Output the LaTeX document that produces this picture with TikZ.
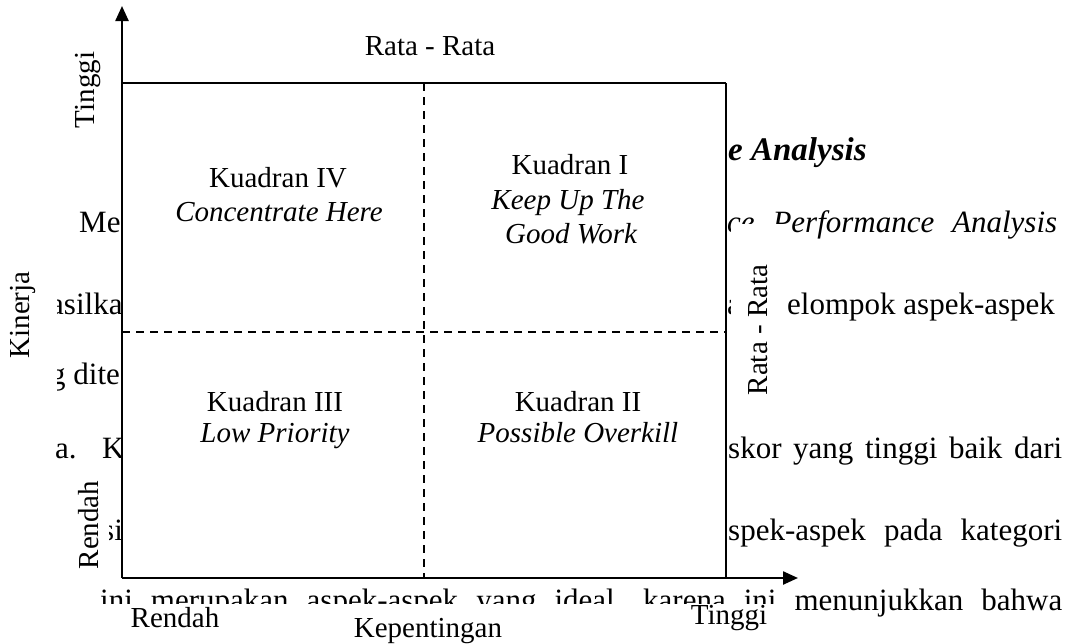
\documentclass[tikz,border=0pt]{standalone}
\usepackage{fontspec}
\setmainfont{Liberation Serif}
\usetikzlibrary{arrows.meta}
\begin{document}
\begin{tikzpicture}[x=1pt,y=-1pt,
  lbl/.style={font=\fontsize{29}{35}\selectfont, inner sep=0pt},
  bg/.style={font=\fontsize{31}{37}\selectfont, inner sep=0pt, anchor=base west},
  quad/.style={font=\fontsize{29}{35}\selectfont, inner sep=0pt, anchor=base},
  mask/.style={fill=white, draw=none},
  axis/.style={line width=2.4pt, -{Triangle[length=15pt,width=13pt]}},
  frame/.style={line width=1.8pt},
  divider/.style={line width=1.3pt, dash pattern=on 8pt off 6pt}]
\useasboundingbox (0,0) rectangle (1071,643);

% ---- page text behind the figure ----
\node[bg] (h1) at (728,160) {\fontsize{33}{37}\selectfont\bfseries\itshape e Analysis};
\node[bg] (l1a) at (79,232) {Me};
\node[bg] (l1b) at (727,232) {\makebox[330pt][s]{\itshape ce Performance Analysis}};
\node[bg] (l2a) at (50,314) {asilka};
\node[bg] (l2b) at (727,314) {a};
\node[bg] (l2c) at (787,314) {elompok aspek-aspek};
\node[bg] (l3a) at (50,384) {g dite};
\node[bg] (l4a) at (55,458) {a.};
\node[bg] (l4b) at (102,458) {K};
\node[bg] (l4c) at (728,458) {\makebox[334pt][s]{skor yang tinggi baik dari}};
\node[bg] (l5a) at (102,540) {si};
\node[bg] (l5b) at (728,540) {\makebox[334pt][s]{spek-aspek pada kategori}};
\node[bg] (l6) at (100,610) {\makebox[962pt][s]{ini merupakan aspek-aspek yang ideal, karena ini menunjukkan bahwa}};

% ---- white text boxes of the labels ----
\fill[mask] (0,250) rectangle (57,398);
\fill[mask] (40,466) rectangle (109,578);
\fill[mask] (731,224) rectangle (785,402);
\fill[mask] (95,604) rectangle (783,643);

% ---- figure ----
\coordinate (O) at (122,578);
\coordinate (TL) at (122,83);
\coordinate (TR) at (726,83);
\coordinate (BR) at (726,578);
\coordinate (ytip) at (122,6);
\coordinate (xtip) at (798,578);
\coordinate (vt) at (424,83);
\coordinate (vb) at (424,578);
\coordinate (hl) at (122,332);
\coordinate (hr) at (726,332);

\fill[white] (TL) rectangle (BR);
\draw[frame] (TL) -- (TR);
\draw[line width=1.5pt] (TR) -- (BR);
\draw[divider] (vt) -- (vb);
\draw[divider] (hl) -- (hr);
\draw[axis] (O) -- (ytip);
\draw[axis] (O) -- (xtip);

% quadrant texts
\node[quad] (q4a) at (278,187) {Kuadran IV};
\node[quad] (q4b) at (279,221) {\itshape Concentrate Here};
\node[quad] (q1a) at (570,174) {Kuadran I};
\node[quad] (q1b) at (568,209) {\itshape Keep Up The};
\node[quad] (q1c) at (571,243) {\itshape Good Work};
\node[quad] (q3a) at (275,411) {Kuadran III};
\node[quad] (q3b) at (275,442) {\itshape Low Priority};
\node[quad] (q2a) at (578,411) {Kuadran II};
\node[quad] (q2b) at (578,442) {\itshape Possible Overkill};

% axis labels
\node[lbl, anchor=base] (rtop) at (430,55) {Rata - Rata};
\node[lbl, rotate=90] (ytop) at (88,90) {Tinggi};
\node[lbl, rotate=90] (yname) at (23,315) {Kinerja};
\node[lbl, rotate=90] (ylow) at (89,525) {Rendah};
\node[lbl, rotate=90] (rright) at (758,330) {Rata - Rata};
\node[lbl] (xlow) at (175,618) {Rendah};
\node[lbl] (xname) at (428,631) {Kepentingan};
\node[lbl] (xhigh) at (729,618) {Tinggi};
\end{tikzpicture}
\end{document}
